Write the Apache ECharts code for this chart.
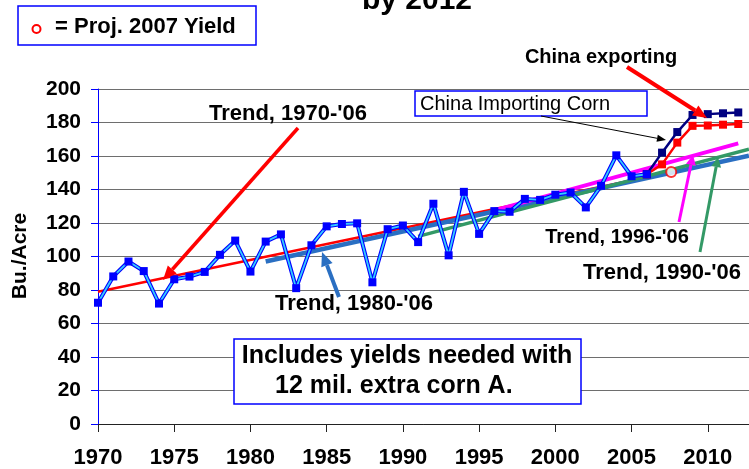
<!DOCTYPE html>
<html>
<head>
<meta charset="utf-8">
<script src="https://cdn.jsdelivr.net/npm/echarts@6/dist/echarts.min.js"></script>
<style>
  html, body { margin: 0; padding: 0; background: #fff; }
  #chart { width: 749px; height: 469px; }
</style>
</head>
<body>
<div id="chart"></div>
<script>
// actual yields, 1970-2006
const actualYears = [1970, 1971, 1972, 1973, 1974, 1975, 1976, 1977, 1978, 1979,
  1980, 1981, 1982, 1983, 1984, 1985, 1986, 1987, 1988, 1989,
  1990, 1991, 1992, 1993, 1994, 1995, 1996, 1997, 1998, 1999,
  2000, 2001, 2002, 2003, 2004, 2005, 2006]
const actualYield = [72.4, 88.1, 97.0, 91.3, 71.9, 86.4, 88.0, 90.8, 101.0, 109.5,
  91.0, 108.9, 113.2, 81.1, 106.7, 118.0, 119.4, 119.8, 84.6, 116.3,
  118.5, 108.6, 131.5, 100.7, 138.6, 113.5, 127.1, 126.7, 134.4, 133.8,
  136.9, 138.2, 129.3, 142.2, 160.4, 147.9, 149.1]

// yields needed, 2006-2012
const projYears = [2006, 2007, 2008, 2009, 2010, 2011, 2012]
const importingYield = [149.1, 162.0, 174.3, 184.5, 185.0, 185.5, 186.0]
const exportingYield = [149.1, 155.0, 168.0, 178.0, 178.2, 178.7, 179.1]

// projected 2007 yield
const proj2007 = [2007.6, 150.5]

// trend lines (start / end)
const trend7006X = [1970, 2006], trend7006Y = [79.0, 147.3]
const trend8006X = [1981, 2012.7], trend8006Y = [97.0, 160.2]
const trend9006X = [1991, 2012.7], trend9006Y = [112.0, 164.0]
const trend9606X = [1996, 2012], trend9606Y = [127.5, 167.5]

const yTicks = { min: 0, max: 200, step: 20 }
const xTicks = { min: 1970, max: 2015, step: 5 }

const FONT = "'Liberation Sans', Arial, sans-serif"

function pairs(xs, ys) {
  return xs.map((x, i) => [x, ys[i]])
}

function trendSeries(xs, ys, color, width) {
  return {
    type: "line",
    data: pairs(xs, ys),
    symbol: "none",
    lineStyle: { color: color, width: width },
    z: 2,
    silent: true
  }
}

// line with a solid arrow head at (x2, y2)
function arrow(x1, y1, x2, y2, color, width, len, half) {
  const a = Math.atan2(y2 - y1, x2 - x1)
  const bx = x2 - len * Math.cos(a)
  const by = y2 - len * Math.sin(a)
  const nx = -Math.sin(a) * half
  const ny = Math.cos(a) * half
  return [
    {
      type: "line",
      shape: { x1: x1, y1: y1, x2: bx, y2: by },
      style: { stroke: color, lineWidth: width },
      z: 100
    },
    {
      type: "polygon",
      shape: { points: [[x2, y2], [bx + nx, by + ny], [bx - nx, by - ny]] },
      style: { fill: color },
      z: 100
    }
  ]
}

function label(text, x, y, size, align) {
  return {
    type: "text",
    z: 101,
    style: {
      text: text,
      x: x,
      y: y,
      font: "bold " + size + "px " + FONT,
      fill: "#000",
      align: align || "center",
      verticalAlign: "middle"
    }
  }
}

const chart = echarts.init(document.getElementById("chart"))

const option = {
  animation: false,
  backgroundColor: "#fff",
  grid: { left: 98, top: 89, bottom: 45, right: -35, outerBoundsMode: "none", containLabel: false },
  xAxis: {
    type: "value",
    min: xTicks.min,
    max: xTicks.max,
    interval: xTicks.step,
    axisLine: { show: true, onZero: false, lineStyle: { color: "#222", width: 1 } },
    axisTick: { show: true, inside: false, length: 8, lineStyle: { color: "#222" } },
    axisLabel: {
      margin: 23,
      color: "#000",
      fontSize: 22,
      fontWeight: "bold",
      fontFamily: FONT,
      formatter: v => String(v)
    },
    splitLine: { show: false }
  },
  yAxis: {
    type: "value",
    min: yTicks.min,
    max: yTicks.max,
    interval: yTicks.step,
    axisLine: { show: true, lineStyle: { color: "#0000ff", width: 1 } },
    axisTick: { show: true, length: 7, lineStyle: { color: "#0000ff" } },
    axisLabel: {
      margin: 17,
      color: "#000",
      fontSize: 21,
      fontWeight: "bold",
      fontFamily: FONT
    },
    splitLine: { show: true, lineStyle: { color: "#6e6e6e", width: 1 } }
  },
  series: [
    trendSeries(trend7006X, trend7006Y, "#ff0000", 2.5),
    trendSeries(trend8006X, trend8006Y, "#2a6fc2", 4.5),
    trendSeries(trend9006X, trend9006Y, "#339966", 3.5),
    trendSeries(trend9606X, trend9606Y, "#ff00ff", 4),
    {
      type: "line",
      data: pairs(projYears, exportingYield),
      symbol: "rect",
      symbolSize: 8,
      showAllSymbol: true,
      itemStyle: { color: "#ff0000" },
      lineStyle: { color: "#ff0000", width: 2.5 },
      z: 4
    },
    {
      type: "line",
      data: pairs(projYears, importingYield),
      symbol: "rect",
      symbolSize: 8,
      itemStyle: { color: "#000080" },
      lineStyle: { color: "#000080", width: 2.5 },
      z: 4
    },
    {
      // blue edge of the actual-yield line
      type: "line",
      data: pairs(actualYears, actualYield),
      symbol: "none",
      lineStyle: { color: "#0000ff", width: 4 },
      z: 5
    },
    {
      type: "line",
      data: pairs(actualYears, actualYield),
      symbol: "rect",
      symbolSize: 8,
      showAllSymbol: true,
      itemStyle: { color: "#0000ff" },
      lineStyle: { color: "#33ccff", width: 1.8 },
      z: 6
    },
    {
      type: "scatter",
      data: [proj2007],
      symbol: "circle",
      symbolSize: 10,
      itemStyle: { color: "#fff", borderColor: "#ff0000", borderWidth: 2 },
      z: 7
    }
  ],
  graphic: [
    // title (cut at top)
    label("by 2012", 417, 1, 30),
    // legend box
    {
      type: "rect",
      shape: { x: 18, y: 6, width: 238, height: 39 },
      style: { fill: "#fff", stroke: "#0000ff", lineWidth: 1.5 },
      z: 99
    },
    {
      type: "circle",
      shape: { cx: 36.5, cy: 29, r: 4 },
      style: { fill: "#fff", stroke: "#ff0000", lineWidth: 2 },
      z: 101
    },
    label("= Proj. 2007 Yield", 55, 27, 22, "left"),
    // notes box
    {
      type: "rect",
      shape: { x: 234, y: 339, width: 347, height: 65 },
      style: { fill: "#fff", stroke: "#0000ff", lineWidth: 1.5 },
      z: 99
    },
    label("Includes yields needed with", 407, 356, 25),
    label("12 mil. extra corn A.", 275, 386, 25, "left"),
    // china importing box
    {
      type: "rect",
      shape: { x: 415, y: 91, width: 232, height: 25 },
      style: { fill: "#fff", stroke: "#0000ff", lineWidth: 1.5 },
      z: 99
    },
    {
      type: "text",
      z: 101,
      style: {
        text: "China Importing Corn",
        x: 420,
        y: 104,
        font: "20px " + FONT,
        fill: "#000",
        align: "left",
        verticalAlign: "middle"
      }
    },
    label("China exporting", 601, 57, 20),
    label("Trend, 1970-'06", 288, 114, 22),
    label("Trend, 1980-'06", 354, 304, 22),
    label("Trend, 1996-'06", 617, 237, 20),
    label("Trend, 1990-'06", 662, 273, 22),
    {
      type: "text",
      z: 101,
      rotation: Math.PI / 2,
      x: 20,
      y: 256,
      style: {
        text: "Bu./Acre",
        x: 0,
        y: 0,
        font: "bold 21px " + FONT,
        fill: "#000",
        align: "center",
        verticalAlign: "middle"
      }
    }
  ]
    .concat(arrow(298, 128, 163, 280, "#ff0000", 3.5, 14, 6))
    .concat(arrow(339, 297, 322, 252, "#2a6fc2", 4, 14, 6))
    .concat(arrow(679, 222, 693, 155, "#ff00ff", 3, 10, 5))
    .concat(arrow(700, 252, 718, 157, "#339966", 3, 10, 5))
    .concat(arrow(627, 67, 707, 118, "#ff0000", 4, 14, 6))
    .concat(arrow(541, 116, 666, 140, "#000", 1, 9, 3.5))
}

chart.setOption(option)

window.addEventListener("resize", function () {
  chart.resize()
})
</script>
</body>
</html>
